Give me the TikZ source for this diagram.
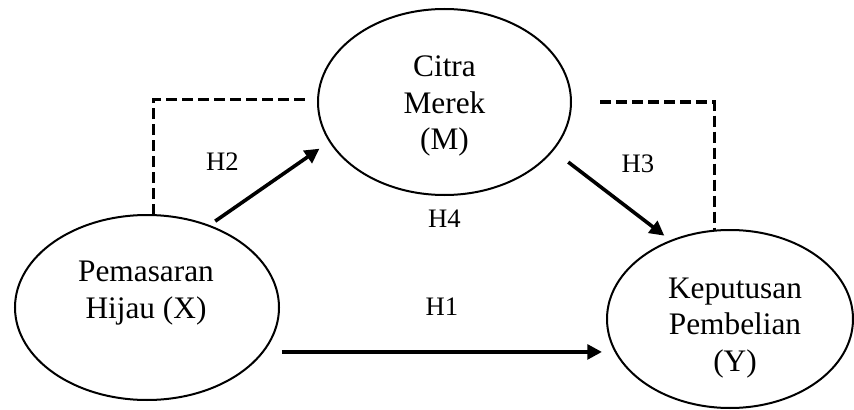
\documentclass[tikz,border=0pt]{standalone}
\usepackage{fontspec}
\setmainfont{Liberation Serif}
\usetikzlibrary{shapes.geometric,arrows.meta,calc}

\begin{document}
\begin{tikzpicture}[x=0.75pt,y=-0.75pt,
  var/.style={draw, ellipse, line width=1.5pt, inner sep=0pt, outer sep=0pt},
  vartext/.style={align=center, font=\fontsize{23.5pt}{27.6pt}\selectfont, inner sep=0pt},
  hyp/.style={font=\fontsize{20pt}{24pt}\selectfont, inner sep=0pt},
  arr/.style={line width=2.7pt, -{Triangle[length=11pt,width=11pt]}},
  link/.style={line width=2.5pt, dash pattern=on 8.5pt off 3.5pt}]
\useasboundingbox (0,0) rectangle (854,410);

% variables
\node[var, minimum width=198pt, minimum height=138.75pt] (x) at (147,307.5) {};
\node[var, minimum width=189.75pt, minimum height=139.5pt] (m) at (444.5,102) {};
\node[var, minimum width=184.5pt, minimum height=133.5pt] (y) at (730,319) {};

\node[vartext] (xt) at (146,293) {Pemasaran\\Hijau (X)};
\node[vartext] (mt) at (444.5,106) {Citra\\Merek\\(M)};
\node[vartext] (yt) at (735,328) {Keputusan\\Pembelian\\(Y)};

% direct paths
\draw[arr, shorten <=6pt, shorten >=9.5pt] (x.53) -- (m.199);
\draw[arr, shorten <=14.7pt, shorten >=6.4pt] (m.336) -- (y.127);
\draw[arr, shorten <=14.25pt, shorten >=3.75pt] (x.339) -- (x.339 -| y.west);

% mediation path
\draw[link, shorten >=9pt] (x.86) |- (m.179);
\draw[link, shorten <=21.75pt] (m.east) -| (y.100);

% hypothesis labels
\node[hyp] (h2) at (222.5,162) {H2};
\node[hyp] (h3) at (638,164) {H3};
\node[hyp] (h4) at (444.5,219) {H4};
\node[hyp] (h1) at (442,307) {H1};
\end{tikzpicture}
\end{document}
